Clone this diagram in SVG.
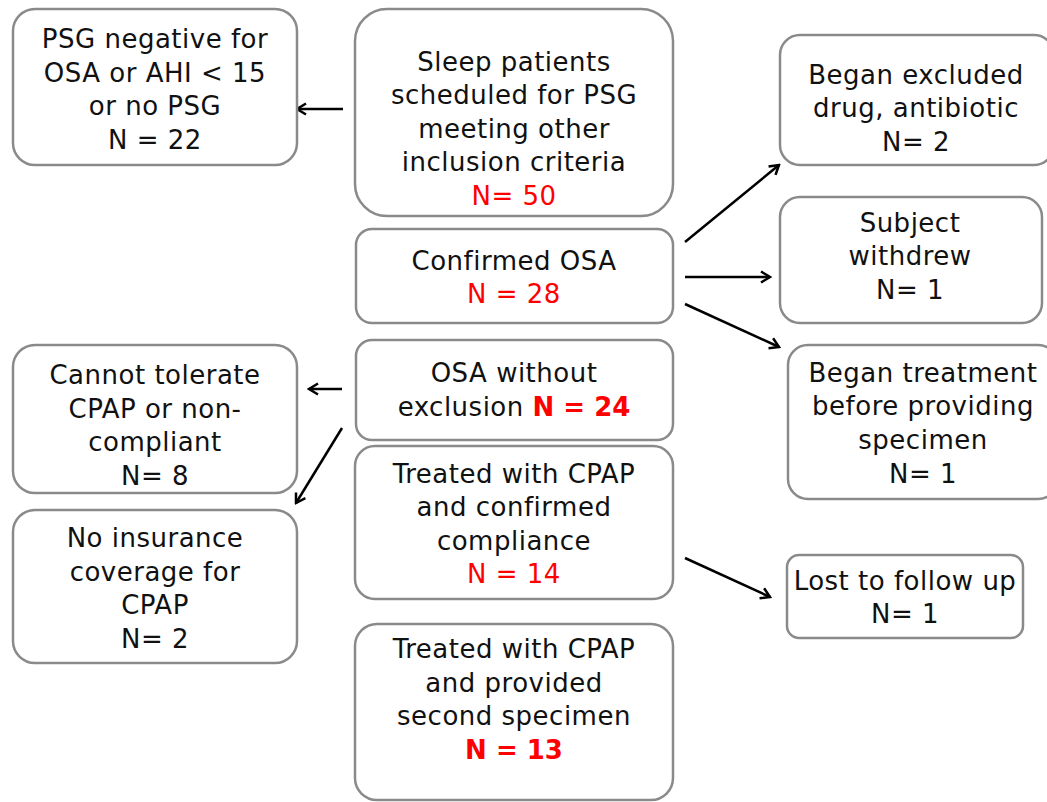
<svg xmlns="http://www.w3.org/2000/svg" width="1047" height="802" viewBox="0 0 1047 802">
<style>
.box{fill:#fff;stroke:#8a8a8a;stroke-width:2.5}
text{font-family:"DejaVu Sans","Liberation Sans",sans-serif;font-size:26px;letter-spacing:0.5px;fill:#111;text-anchor:middle}
.red{fill:#ff0000}
.b{font-weight:bold;fill:#ff0000;letter-spacing:0}
.c{stroke:#000;stroke-width:2.5;fill:none;marker-end:url(#ah)}
</style>
<defs>
<marker id="ah" viewBox="0 0 14 14" refX="12" refY="7" markerWidth="14" markerHeight="14" markerUnits="userSpaceOnUse" orient="auto">
<path d="M3,1.5 L12,7 L3,12.5" fill="none" stroke="#000" stroke-width="2.5"/>
</marker>
</defs>
<rect width="1047" height="802" fill="#fff"/>
<g id="connectors">
<line class="c" x1="343" y1="109" x2="297" y2="109"/>
<line class="c" x1="685" y1="242" x2="779" y2="165"/>
<line class="c" x1="685" y1="277" x2="770" y2="277"/>
<line class="c" x1="685" y1="304" x2="779" y2="347"/>
<line class="c" x1="342" y1="389" x2="309" y2="389"/>
<line class="c" x1="342" y1="428" x2="296" y2="503"/>
<line class="c" x1="685" y1="558" x2="770" y2="597"/>
</g>
<g id="psg-negative">
<rect class="box" x="13" y="9" width="284" height="156" rx="22"/>
<text x="155" y="48">PSG negative for</text>
<text x="155" y="82">OSA or AHI &lt; 15</text>
<text x="155" y="115">or no PSG</text>
<text x="155" y="149">N = 22</text>
</g>
<g id="sleep-patients">
<rect class="box" x="355" y="9" width="318" height="207" rx="32"/>
<text x="514" y="71">Sleep patients</text>
<text x="514" y="104">scheduled for PSG</text>
<text x="514" y="138">meeting other</text>
<text x="514" y="171">inclusion criteria</text>
<text x="514" y="205" class="red">N= 50</text>
</g>
<g id="confirmed-osa">
<rect class="box" x="356" y="229" width="317" height="94" rx="16"/>
<text x="514" y="270">Confirmed OSA</text>
<text x="514" y="303" class="red">N = 28</text>
</g>
<g id="osa-without-exclusion">
<rect class="box" x="356" y="340" width="317" height="100" rx="16"/>
<text x="514" y="382">OSA without</text>
<text x="514" y="416">exclusion <tspan class="b">N = 24</tspan></text>
</g>
<g id="treated-confirmed">
<rect class="box" x="355" y="446" width="318" height="153" rx="20"/>
<text x="514" y="483">Treated with CPAP</text>
<text x="514" y="516">and confirmed</text>
<text x="514" y="550">compliance</text>
<text x="514" y="583" class="red">N = 14</text>
</g>
<g id="treated-second">
<rect class="box" x="355" y="624" width="318" height="176" rx="22"/>
<text x="514" y="658">Treated with CPAP</text>
<text x="514" y="692">and provided</text>
<text x="514" y="725">second specimen</text>
<text x="514" y="759" class="b">N = 13</text>
</g>
<g id="began-excluded">
<rect class="box" x="780" y="35" width="274" height="130" rx="20"/>
<text x="916" y="84">Began excluded</text>
<text x="916" y="117">drug, antibiotic</text>
<text x="916" y="151">N= 2</text>
</g>
<g id="subject-withdrew">
<rect class="box" x="780" y="197" width="262" height="126" rx="20"/>
<text x="910" y="232">Subject</text>
<text x="910" y="265">withdrew</text>
<text x="910" y="299">N= 1</text>
</g>
<g id="began-treatment">
<rect class="box" x="788" y="345" width="270" height="154" rx="20"/>
<text x="923" y="382">Began treatment</text>
<text x="923" y="415">before providing</text>
<text x="923" y="449">specimen</text>
<text x="923" y="483">N= 1</text>
</g>
<g id="cannot-tolerate">
<rect class="box" x="13" y="345" width="284" height="148" rx="22"/>
<text x="155" y="384">Cannot tolerate</text>
<text x="155" y="418">CPAP or non-</text>
<text x="155" y="451">compliant</text>
<text x="155" y="485">N= 8</text>
</g>
<g id="no-insurance">
<rect class="box" x="13" y="510" width="284" height="153" rx="22"/>
<text x="155" y="547">No insurance</text>
<text x="155" y="581">coverage for</text>
<text x="155" y="614">CPAP</text>
<text x="155" y="648">N= 2</text>
</g>
<g id="lost-follow-up">
<rect class="box" x="787" y="555" width="236" height="83" rx="12"/>
<text x="905" y="590">Lost to follow up</text>
<text x="905" y="623">N= 1</text>
</g>
</svg>
